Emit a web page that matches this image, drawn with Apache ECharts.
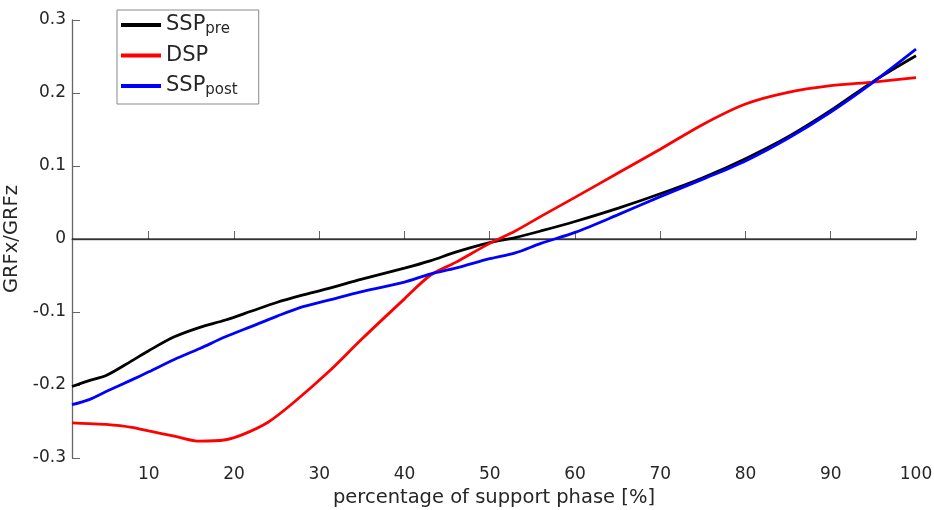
<!DOCTYPE html>
<html>
<head>
<meta charset="utf-8">
<script src="https://cdn.jsdelivr.net/npm/echarts@6/dist/echarts.min.js"></script>
<style>
  html, body { margin: 0; padding: 0; background: #fff; }
  #chart { width: 934px; height: 510px; }
</style>
</head>
<body>
<div id="chart"></div>
<script>
// Sample positions (percentage of support phase) for the single-support curves
const xSsp = [1, 3, 5, 8, 10, 13, 16, 19, 22, 25, 28, 31, 35, 40, 43, 46, 50, 53, 56, 60, 65, 70, 75, 80, 85, 90, 95, 100];
// GRFx/GRFz before the double-support phase
const sspPre = [-0.202, -0.194, -0.187, -0.167, -0.153, -0.134, -0.121, -0.111, -0.099, -0.087, -0.077, -0.068, -0.055, -0.040, -0.030, -0.018, -0.005, 0.002, 0.011, 0.024, 0.042, 0.062, 0.084, 0.110, 0.140, 0.176, 0.216, 0.251];
// GRFx/GRFz after the double-support phase
const sspPost = [-0.227, -0.220, -0.209, -0.193, -0.182, -0.165, -0.150, -0.134, -0.120, -0.106, -0.093, -0.084, -0.072, -0.059, -0.048, -0.040, -0.027, -0.019, -0.006, 0.009, 0.033, 0.058, 0.082, 0.107, 0.138, 0.174, 0.215, 0.260];
// Sample positions for the double-support curve
const xDsp = [1, 3, 5, 8, 10, 13, 16, 19, 21, 24, 27, 31, 35, 40, 43, 46, 50, 53, 56, 60, 65, 70, 75, 80, 85, 90, 95, 100];
const dsp = [-0.252, -0.253, -0.254, -0.258, -0.263, -0.270, -0.277, -0.275, -0.268, -0.251, -0.224, -0.183, -0.137, -0.082, -0.050, -0.032, -0.006, 0.011, 0.031, 0.057, 0.090, 0.123, 0.157, 0.185, 0.201, 0.210, 0.215, 0.221];

const xTicks = [10, 20, 30, 40, 50, 60, 70, 80, 90, 100];
const zeroLine = [[1, 0], [100, 0]];

const FONT = 'DejaVu Sans';
const TEXT = '#262626';
const AXIS = '#666666';

const pairs = (xs, ys) => xs.map((x, i) => [x, ys[i]]);

const chart = echarts.init(document.getElementById('chart'), null, { renderer: 'canvas' });

const curve = (name, color, data) => ({
  name, type: 'line', data, symbol: 'none', smooth: 0.3,
  lineStyle: { color, width: 2.8 }, itemStyle: { color }, z: 3, animation: false
});

chart.setOption({
  animation: false,
  grid: { left: 72, right: 18, top: 20, bottom: 52, containLabel: false, outerBoundsMode: 'none' },
  legend: {
    orient: 'vertical', left: 117, top: 10,
    padding: [3, 21, 6, 4],
    itemWidth: 40, itemHeight: 4, itemGap: 6.5,
    icon: 'rect',
    borderColor: '#8a8a8a', borderWidth: 1, backgroundColor: '#fff',
    data: ['SSPpre', 'DSP', 'SSPpost'],
    formatter: n => n === 'DSP' ? '{m|DSP}' : '{m|SSP}{s|' + n.slice(3) + '}',
    textStyle: {
      color: TEXT, fontFamily: FONT,
      rich: {
        m: { fontSize: 21, fontFamily: FONT, color: TEXT, height: 24, lineHeight: 24, verticalAlign: 'middle' },
        s: { fontSize: 15, fontFamily: FONT, color: TEXT, height: 15, lineHeight: 15, padding: [9, 0, 0, 0], verticalAlign: 'middle' }
      }
    }
  },
  xAxis: {
    type: 'value', min: 1, max: 100,
    name: 'percentage of support phase [%]', nameLocation: 'middle', nameGap: 29,
    nameTextStyle: { color: TEXT, fontFamily: FONT, fontSize: 19.5 },
    axisLine: { show: true, lineStyle: { color: AXIS, width: 1.3 } },
    axisTick: { show: true, inside: true, length: 8, customValues: xTicks, lineStyle: { color: AXIS } },
    axisLabel: { customValues: xTicks, color: TEXT, fontFamily: FONT, fontSize: 17, margin: 8 },
    splitLine: { show: false }
  },
  yAxis: {
    type: 'value', min: -0.3, max: 0.3, interval: 0.1,
    name: 'GRFx/GRFz', nameLocation: 'middle', nameGap: 45, nameRotate: 90,
    nameTextStyle: { color: TEXT, fontFamily: FONT, fontSize: 19.5 },
    axisLine: { show: true, lineStyle: { color: AXIS, width: 1.3 } },
    axisTick: { show: true, inside: true, length: 8, lineStyle: { color: AXIS } },
    axisLabel: {
      color: TEXT, fontFamily: FONT, fontSize: 17, margin: 6,
      formatter: v => { const r = Math.round(v * 10) / 10; return r === 0 ? '0' : r.toFixed(1); }
    },
    splitLine: { show: false }
  },
  series: [
    {
      name: 'zero', type: 'line', data: zeroLine, symbol: 'none', silent: true,
      lineStyle: { color: '#000', width: 1 }, z: 1, animation: false
    },
    curve('SSPpre', '#000000', pairs(xSsp, sspPre)),
    curve('DSP', '#ff0000', pairs(xDsp, dsp)),
    curve('SSPpost', '#0000ff', pairs(xSsp, sspPost))
  ]
});
</script>
</body>
</html>
